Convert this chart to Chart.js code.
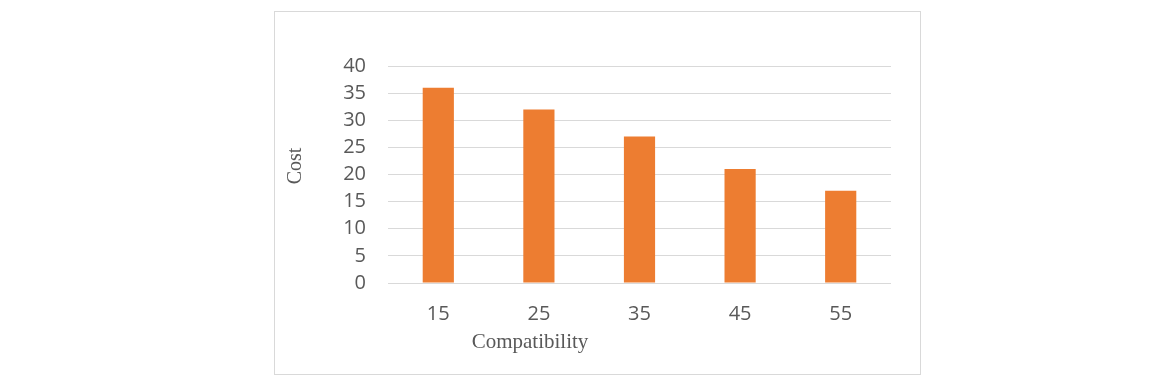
<!DOCTYPE html>
<html><head><meta charset="utf-8">
<script src="https://cdn.jsdelivr.net/npm/chart.js@4.4.0/dist/chart.umd.min.js"></script>
<style>
html,body{margin:0;padding:0;background:#fff;}
#wrap{position:relative;width:1173px;height:385px;}
#box{position:absolute;left:274px;top:11px;width:645px;height:362px;border:1px solid #d9d9d9;box-sizing:content-box;}
canvas{position:absolute;left:0;top:0;}
</style></head>
<body>
<div id="wrap"><div id="box"></div><canvas id="c" width="1173" height="385"></canvas></div>
<script>
const categories = ['15','25','35','45','55'];
const costValues = [36, 32, 27, 21, 17];
const yTicks = [0,5,10,15,20,25,30,35,40];
const xTitle = 'Compatibility';
const yTitle = 'Cost';

const axisTitlePlugin = {
  id: 'axisTitlePlugin',
  afterDraw(chart) {
    const ctx = chart.ctx;
    ctx.save();
    ctx.fillStyle = '#595959';
    ctx.textAlign = 'center';
    ctx.textBaseline = 'middle';
    ctx.font = '21px "Liberation Serif", "Times New Roman", serif';
    ctx.fillText(xTitle, 530, 342);
    ctx.font = '20px "Liberation Serif", "Times New Roman", serif';
    ctx.translate(296, 166);
    ctx.rotate(-Math.PI / 2);
    ctx.fillText(yTitle, 0, 0);
    ctx.restore();
  }
};

new Chart(document.getElementById('c'), {
  type: 'bar',
  data: {
    labels: categories,
    datasets: [{
      data: costValues,
      backgroundColor: '#ED7D31',
      borderWidth: 0,
      barPercentage: 0.31,
      categoryPercentage: 1
    }]
  },
  options: {
    responsive: false,
    animation: false,
    layout: { padding: { left: 280, right: 282, top: 66, bottom: 20 } },
    plugins: { legend: { display: false }, tooltip: { enabled: false } },
    scales: {
      x: {
        grid: { display: false },
        border: { display: false },
        ticks: { color: '#595959', font: { family: '"Open Sans", sans-serif', size: 20 }, padding: 11, maxRotation: 0 },
        afterFit(s) { s.height = 82; }
      },
      y: {
        min: 0, max: 40,
        afterBuildTicks(s) { s.ticks = yTicks.map(v => ({ value: v })); },
        grid: { color: '#d9d9d9', lineWidth: 1, drawTicks: false },
        border: { display: false },
        ticks: { color: '#595959', font: { family: '"Open Sans", sans-serif', size: 20 }, padding: 22 },
        afterFit(s) { s.width = 108; }
      }
    }
  },
  plugins: [axisTitlePlugin]
});
</script>
</body></html>
